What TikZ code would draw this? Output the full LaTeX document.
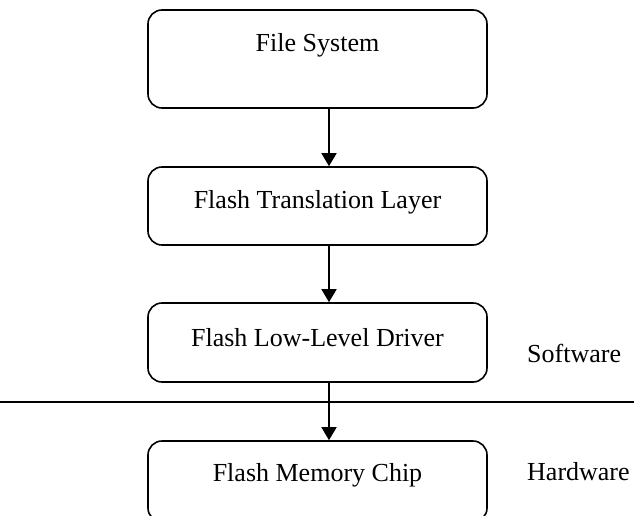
\documentclass[tikz,border=0pt]{standalone}
\usepackage{fontspec}
\setmainfont{Liberation Serif}
\usetikzlibrary{arrows.meta}
\begin{document}
\begin{tikzpicture}[x=1pt, y=-1pt,
  layerbox/.style={draw, line width=1.6pt, rounded corners=14pt,
    minimum width=339pt, inner sep=0pt},
  lbl/.style={font=\fontsize{26}{30}\selectfont, inner sep=0pt},
  flow/.style={line width=1.6pt, -{Triangle[width=15pt,length=13pt]}},
  rule/.style={line width=1.6pt}]
  \useasboundingbox (0,0) rectangle (634,516);

  % layer boxes
  \node[layerbox, minimum height=98pt] (fs)  at (317.5,59)    {};
  \node[layerbox, minimum height=78pt] (ftl) at (317.5,206)   {};
  \node[layerbox, minimum height=79pt] (lld) at (317.5,342.5) {};
  \node[layerbox, minimum height=81pt] (chip) at (317.5,481.5) {};

  % box captions
  \node[lbl] (fst)   at (317.5,45)  {File System};
  \node[lbl] (ftlt)  at (317.5,202) {Flash Translation Layer};
  \node[lbl] (lldt)  at (317.5,338) {Flash Low-Level Driver};
  \node[lbl] (chipt) at (317.5,475) {Flash Memory Chip};

  % vertical data path
  \coordinate (ax) at (329,0);
  \draw[flow] (fs.south -| ax)  -- (ftl.north -| ax);
  \draw[flow] (ftl.south -| ax) -- (lld.north -| ax);
  \draw[flow] (lld.south -| ax) -- (chip.north -| ax);

  % software / hardware boundary
  \coordinate (bl) at (0,402);
  \coordinate (br) at (634,402);
  \draw[rule] (bl) -- (br);
  \node[lbl, anchor=west] (sw) at (527,353) {Software};
  \node[lbl, anchor=west] (hw) at (527,472) {Hardware};
\end{tikzpicture}
\end{document}
